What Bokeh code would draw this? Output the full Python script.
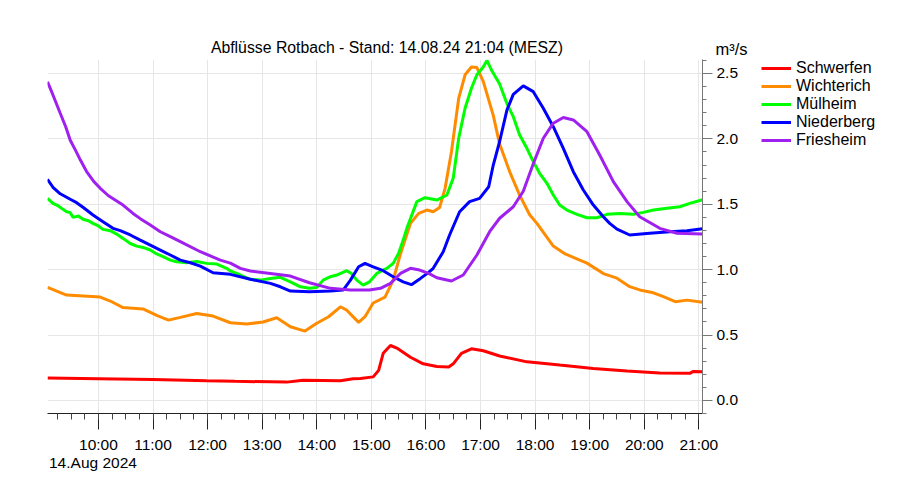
import pandas as pd
from bokeh.plotting import figure
from bokeh.layouts import row
from bokeh.models import (Range1d, FixedTicker, DatetimeTickFormatter, PrintfTickFormatter,
                          Label, Legend, LegendItem)
from bokeh.embed import file_html
from bokeh.resources import INLINE

DAY = "2024-08-14 "
title_text = "Abflüsse Rotbach - Stand: 14.08.24 21:04 (MESZ)"
date_text = "14.Aug 2024"
unit_text = "m³/s"
x_start, x_end = "09:04", "21:04"
hour_ticks = ["10:00", "11:00", "12:00", "13:00", "14:00", "15:00", "16:00",
              "17:00", "18:00", "19:00", "20:00", "21:00"]
y_ticks = [0.0, 0.5, 1.0, 1.5, 2.0, 2.5]
y_minor = [round(-0.1 + 0.1 * i, 1) for i in range(28)]

names = ["Schwerfen", "Wichterich", "Mülheim", "Niederberg", "Friesheim"]
colors = ["#ff0000", "#ff8c00", "#00ff00", "#0000ff", "#a020f0"]

schwerfen_t = ["09:04","10:00","11:00","11:59","12:30","13:27","13:45","14:26","14:40","14:48","15:02","15:08",
               "15:13","15:21","15:28","15:43","15:57","16:12","16:25","16:30","16:39","16:50","17:03","17:21",
               "17:51","18:27","19:04","19:41","20:17","20:50","20:54","21:04"]
schwerfen_v = [0.172,0.166,0.16,0.15,0.146,0.14,0.155,0.15,0.165,0.168,0.18,0.23,
               0.36,0.42,0.40,0.33,0.28,0.26,0.255,0.28,0.36,0.395,0.38,0.34,
               0.295,0.27,0.245,0.225,0.21,0.207,0.222,0.22]

wichterich_t = ["09:04","09:25","10:02","10:13","10:27","10:49","11:04","11:17","11:30","11:48","12:06","12:25",
                "12:43","13:01","13:16","13:31","13:47","14:00","14:13","14:26","14:33","14:46","14:53","15:02",
                "15:15","15:24","15:32","15:43","15:52","16:01","16:08","16:15","16:21","16:28","16:36","16:43",
                "16:50","16:56","17:03","17:14","17:21","17:32","17:43","17:54","18:02","18:20","18:33","18:57",
                "19:15","19:30","19:44","19:55","20:10","20:21","20:34","20:47","21:04"]
wichterich_v = [0.865,0.806,0.79,0.76,0.71,0.70,0.65,0.614,0.635,0.665,0.645,0.594,
                0.584,0.60,0.632,0.563,0.53,0.59,0.64,0.716,0.69,0.597,0.64,0.745,
                0.79,0.92,1.12,1.354,1.43,1.456,1.443,1.475,1.62,1.90,2.31,2.49,
                2.55,2.545,2.44,2.18,1.96,1.75,1.57,1.42,1.354,1.18,1.12,1.05,
                0.97,0.935,0.87,0.845,0.823,0.793,0.755,0.767,0.75]

mulheim_t = ["09:04","09:10","09:16","09:21","09:25","09:29","09:32","09:38","09:43","09:49","09:54","10:00",
             "10:05","10:13","10:20","10:27","10:35","10:42","10:49","10:57","11:04","11:11","11:19","11:26",
             "11:37","11:48","11:59","12:10","12:21","12:25","12:36","12:47","12:58","13:09","13:20","13:31",
             "13:42","13:52","14:00","14:07","14:15","14:22","14:33","14:38","14:44","14:51","14:58","15:06",
             "15:17","15:24","15:30","15:35","15:39","15:50","15:59","16:12","16:23","16:30","16:36","16:43",
             "16:50","16:56","17:03","17:07","17:12","17:21","17:29","17:36","17:43","17:51","17:58","18:05",
             "18:13","18:20","18:27","18:35","18:46","18:57","19:08","19:19","19:33","19:48","19:59","20:10",
             "20:25","20:39","20:50","21:04"]
mulheim_v = [1.545,1.507,1.487,1.461,1.443,1.436,1.40,1.41,1.385,1.374,1.354,1.334,
             1.308,1.298,1.272,1.239,1.20,1.18,1.17,1.15,1.12,1.099,1.073,1.06,
             1.053,1.063,1.048,1.043,1.01,0.99,0.959,0.926,0.92,0.933,0.941,0.907,
             0.869,0.857,0.864,0.92,0.946,0.959,0.992,0.971,0.92,0.882,0.907,0.971,
             1.01,1.048,1.125,1.226,1.316,1.52,1.55,1.532,1.571,1.70,2.005,2.234,
             2.387,2.49,2.55,2.60,2.527,2.42,2.27,2.17,2.03,1.928,1.826,1.737,
             1.66,1.571,1.494,1.456,1.423,1.397,1.397,1.423,1.43,1.423,1.438,1.456,
             1.469,1.481,1.507,1.535]

niederberg_t = ["09:04","09:10","09:18","09:29","09:36","09:43","09:54","10:05","10:16","10:24","10:35","10:46",
                "10:57","11:08","11:19","11:30","11:41","11:52","12:06","12:25","12:47","13:09","13:20","13:31",
                "13:52","14:15","14:29","14:37","14:46","14:53","15:02","15:13","15:24","15:35","15:44","15:54",
                "16:03","16:08","16:19","16:26","16:37","16:48","16:59","17:09","17:14","17:21","17:29","17:36",
                "17:47","17:58","18:09","18:20","18:31","18:42","18:53","19:04","19:15","19:22","19:30","19:44",
                "20:06","20:28","20:47","21:04"]
niederberg_v = [1.69,1.63,1.58,1.538,1.512,1.477,1.418,1.367,1.316,1.298,1.265,1.226,
                1.188,1.15,1.112,1.073,1.053,1.027,0.976,0.964,0.926,0.895,0.869,0.836,
                0.831,0.836,0.844,0.92,1.022,1.048,1.022,0.992,0.946,0.907,0.885,0.933,
                0.979,1.01,1.137,1.265,1.443,1.52,1.545,1.634,1.80,1.98,2.22,2.34,
                2.405,2.361,2.234,2.093,1.928,1.749,1.609,1.494,1.405,1.354,1.31,1.265,
                1.278,1.29,1.298,1.312]

friesheim_t = ["09:04","09:10","09:18","09:24","09:29","09:35","09:40","09:47","09:55","10:02","10:11","10:27",
               "10:38","10:46","10:57","11:08","11:19","11:30","11:52","12:14","12:25","12:36","12:47","13:09",
               "13:31","13:52","14:15","14:37","14:58","15:10","15:21","15:32","15:43","15:53","16:03","16:12",
               "16:28","16:41","16:56","17:10","17:21","17:36","17:47","17:58","18:09","18:20","18:31","18:42",
               "18:57","19:11","19:26","19:41","19:55","20:17","20:36","21:04"]
friesheim_v = [2.437,2.336,2.196,2.093,1.99,1.91,1.84,1.75,1.673,1.622,1.565,1.494,
               1.43,1.39,1.341,1.29,1.252,1.214,1.137,1.073,1.05,1.01,0.99,0.971,
               0.951,0.90,0.857,0.844,0.844,0.857,0.895,0.971,1.01,0.997,0.971,0.938,
               0.913,0.959,1.112,1.29,1.393,1.481,1.60,1.81,2.005,2.12,2.163,2.145,
               2.055,1.877,1.673,1.52,1.405,1.316,1.278,1.272]

series_t = [schwerfen_t, wichterich_t, mulheim_t, niederberg_t, friesheim_t]
series_v = [schwerfen_v, wichterich_v, mulheim_v, niederberg_v, friesheim_v]


def ts(t):
    return pd.Timestamp(DAY + t)


def ms(t):
    return ts(t).value // 10**6


FONT = "Liberation Sans"
t0, t1 = ts(x_start), ts(x_end)
y_lo, y_hi = -0.1, 2.607
FRAME_TOP = 59
FRAME_H = 354
BOTTOM = 75
FIG_H = FRAME_TOP + FRAME_H + BOTTOM

p = figure(x_axis_type="datetime", y_axis_location="right", title=None,
           frame_width=655, frame_height=FRAME_H, align="start",
           min_border_left=47, min_border_top=FRAME_TOP, min_border_bottom=BOTTOM, min_border_right=50,
           x_range=Range1d(t0, t1), y_range=Range1d(y_lo, y_hi),
           output_backend="svg", toolbar_location=None)
p.outline_line_color = None
p.background_fill_color = "white"
p.border_fill_color = "white"

# x axis
major_x = [ms(h) for h in hour_ticks]
minor_x = list(range(ms("09:15"), ms("21:04"), 15 * 60 * 1000))
xa = p.xaxis[0]
xa.ticker = FixedTicker(ticks=major_x, minor_ticks=minor_x)
fmt = "%H:%M"
xa.formatter = DatetimeTickFormatter(microseconds=fmt, milliseconds=fmt, seconds=fmt, minsec=fmt,
                                     minutes=fmt, hourmin=fmt, hours=fmt, days=fmt, months=fmt, years=fmt)
xa.axis_line_color = "#222222"
xa.major_tick_line_color = "#222222"
xa.minor_tick_line_color = "#444444"
xa.major_tick_out = 16
xa.major_tick_in = 0
xa.minor_tick_out = 6
xa.minor_tick_in = 0
xa.major_label_standoff = 6
xa.major_label_text_font = FONT
xa.major_label_text_font_size = "15.5px"
xa.major_label_text_color = "black"

# y axis (right)
ya = p.yaxis[0]
ya.ticker = FixedTicker(ticks=y_ticks, minor_ticks=y_minor)
ya.formatter = PrintfTickFormatter(format="%.1f")
ya.axis_line_color = "#777777"
ya.major_tick_line_color = "#777777"
ya.minor_tick_line_color = "#777777"
ya.major_tick_out = 10
ya.major_tick_in = 0
ya.minor_tick_out = 4
ya.minor_tick_in = 0
ya.major_label_standoff = 4
ya.major_label_text_font = FONT
ya.major_label_text_font_size = "15.5px"
ya.major_label_text_color = "black"

# grids
p.xgrid[0].ticker = FixedTicker(ticks=major_x)
p.ygrid[0].ticker = FixedTicker(ticks=y_ticks)
for g in (p.xgrid[0], p.ygrid[0]):
    g.grid_line_color = "#e6e6e6"
    g.grid_line_width = 1

# series
for name, col, tt, vv in zip(names, colors, series_t, series_v):
    p.line([ts(t) for t in tt], vv, line_color=col, line_width=3)

# texts (placed in side panels so they are not clipped to the frame)
p.add_layout(Label(x=t0, y=y_hi, x_offset=163.4, y_offset=12, text=title_text,
                   text_font=FONT, text_font_size="15.8px", text_color="black",
                   text_align="left", text_baseline="alphabetic"), "above")
p.add_layout(Label(x=t1, y=y_hi, x_offset=13, y_offset=11, text=unit_text,
                   text_font=FONT, text_font_size="16.5px", text_color="black",
                   text_align="left", text_baseline="alphabetic"), "above")
p.add_layout(Label(x=t0, y=y_lo, x_offset=1.5, y_offset=-48.7, text=date_text,
                   text_font=FONT, text_font_size="15.5px", text_color="black",
                   text_align="left", text_baseline="alphabetic"), "below")

# legend panel: a second, axis-less figure beside the chart
LEG_TOP = 17
lp = figure(width=134, height=FIG_H, x_axis_location=None, y_axis_location=None, align="start",
            min_border_left=9, min_border_right=0, min_border_top=LEG_TOP, min_border_bottom=0,
            x_range=Range1d(0, 1), y_range=Range1d(0, 1), title=None,
            output_backend="svg", toolbar_location=None)
lp.outline_line_color = None
lp.grid.visible = False
items = []
for name, col, tt, vv in zip(names, colors, series_t, series_v):
    # same series, out of this panel's view; only its legend entry shows
    r = lp.line([ms(t) for t in tt], vv, line_color=col, line_width=3)
    items.append(LegendItem(label=name, renderers=[r]))
legend = Legend(items=items, location="top_left", orientation="vertical",
                glyph_width=30, glyph_height=16, label_height=16, spacing=0,
                label_standoff=5, padding=0, margin=0,
                border_line_color=None, background_fill_alpha=0,
                label_text_font=FONT, label_text_font_size="16px", label_text_color="black")
lp.add_layout(legend, "center")

layout = row(p, lp, align="start")
open("out.html", "w").write(file_html(layout, INLINE))
